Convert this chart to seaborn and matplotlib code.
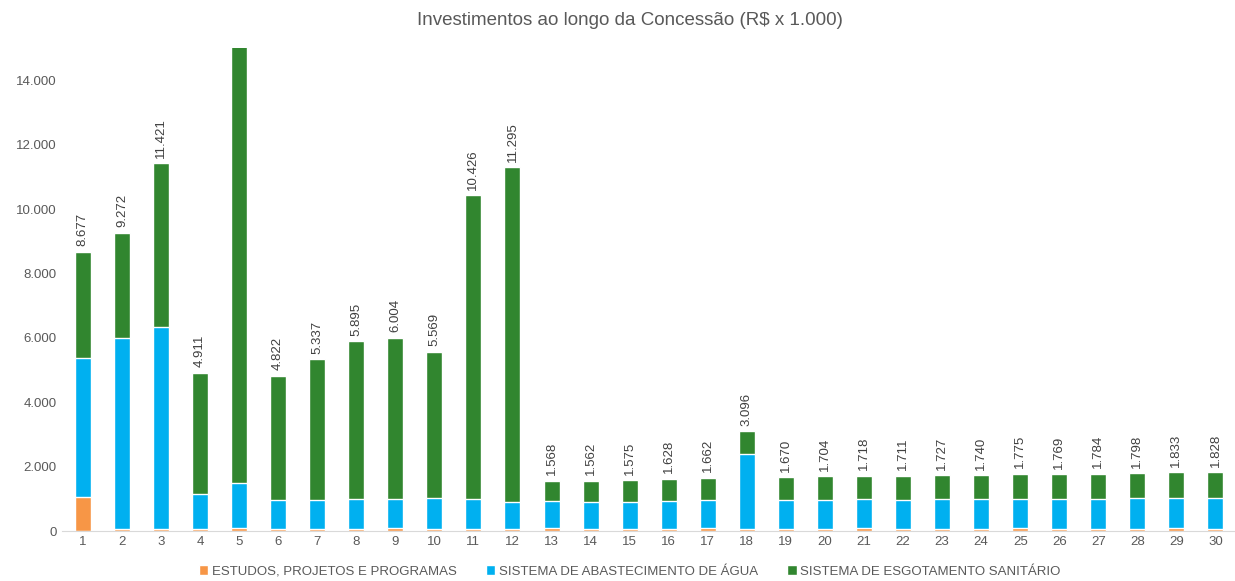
import matplotlib
matplotlib.use("Agg")
import matplotlib.pyplot as plt
import seaborn as sns
import pandas as pd

# anos da concessao
anos = list(range(1, 31))

# totais por ano (R$ x 1.000) - ano 5 ultrapassa o eixo, valor estimado
totais = [8677, 9272, 11421, 4911, 17500, 4822, 5337, 5895, 6004, 5569,
          10426, 11295, 1568, 1562, 1575, 1628, 1662, 3096, 1670, 1704,
          1718, 1711, 1727, 1740, 1775, 1769, 1784, 1798, 1833, 1828]

# estudos, projetos e programas
estudos = [1067, 70, 70, 70, 100, 70, 70, 70, 100, 70,
           70, 70, 100, 70, 70, 70, 100, 70, 70, 70,
           100, 70, 70, 70, 100, 70, 70, 70, 100, 70]

# sistema de abastecimento de agua
agua = [4304, 5942, 6274, 1071, 1402, 894, 894, 915, 905, 946,
        925, 822, 833, 842, 842, 863, 854, 2324, 884, 894,
        885, 894, 915, 915, 905, 935, 935, 946, 936, 966]

# sistema de esgotamento sanitario = total - (estudos + agua)
esgoto = [t - e - a for t, e, a in zip(totais, estudos, agua)]

serie_nomes = ["ESTUDOS, PROJETOS E PROGRAMAS",
               "SISTEMA DE ABASTECIMENTO DE ÁGUA",
               "SISTEMA DE ESGOTAMENTO SANITÁRIO"]
cores = ["#F79646", "#00B0F0", "#31862F"]

df = pd.DataFrame({"ano": anos, "estudos": estudos, "agua": agua, "esgoto": esgoto})
df["nivel1"] = df["estudos"]
df["nivel2"] = df["estudos"] + df["agua"]
df["nivel3"] = df["nivel2"] + df["esgoto"]

sns.set_style("white")
plt.rcParams["font.family"] = ["Liberation Sans", "DejaVu Sans"]
cinza = "#595959"

fig, ax = plt.subplots(figsize=(12.35, 5.81), dpi=100)
fig.subplots_adjust(left=0.05, right=1.0, bottom=0.086, top=0.917)

# barras empilhadas: desenha do total para baixo
sns.barplot(data=df, x="ano", y="nivel3", color=cores[2], width=0.41,
            saturation=1, ax=ax, label=serie_nomes[2])
sns.barplot(data=df, x="ano", y="nivel2", color=cores[1], width=0.41,
            saturation=1, ax=ax, label=serie_nomes[1])
sns.barplot(data=df, x="ano", y="nivel1", color=cores[0], width=0.41,
            saturation=1, ax=ax, label=serie_nomes[0])

ymax = 15000
ax.set_ylim(0, ymax)
ax.set_xlim(-0.54, 29.5)
ax.set_yticks(range(0, 14001, 2000))
ax.set_yticklabels([f"{v:,}".replace(",", ".") for v in range(0, 14001, 2000)])
ax.tick_params(axis="both", colors=cinza, labelsize=9.5, length=0)
ax.set_xlabel("")
ax.set_ylabel("")

for s in ["top", "right", "left"]:
    ax.spines[s].set_visible(False)
ax.spines["bottom"].set_color("#D9D9D9")

# rotulos dos totais
for i, t in enumerate(totais):
    if t < ymax:
        ax.text(i, t + 170, f"{t:,}".replace(",", "."), rotation=90,
                ha="center", va="bottom", fontsize=9.5, color="#404040")

fig.suptitle("Investimentos ao longo da Concessão (R$ x 1.000)",
             x=0.51, y=0.979, fontsize=13.5, color=cinza)

handles, labels = ax.get_legend_handles_labels()
if ax.get_legend() is not None:
    ax.get_legend().remove()
ordem = [labels.index(n) for n in serie_nomes]
fig.legend([handles[k] for k in ordem], [labels[k] for k in ordem],
           loc="lower center", bbox_to_anchor=(0.51, -0.008), ncol=3,
           frameon=False, fontsize=9.5, labelcolor=cinza,
           handlelength=0.7, handleheight=0.7, handletextpad=0.3,
           columnspacing=2.2, borderaxespad=0.2)

fig.savefig("out.png", dpi=100)
